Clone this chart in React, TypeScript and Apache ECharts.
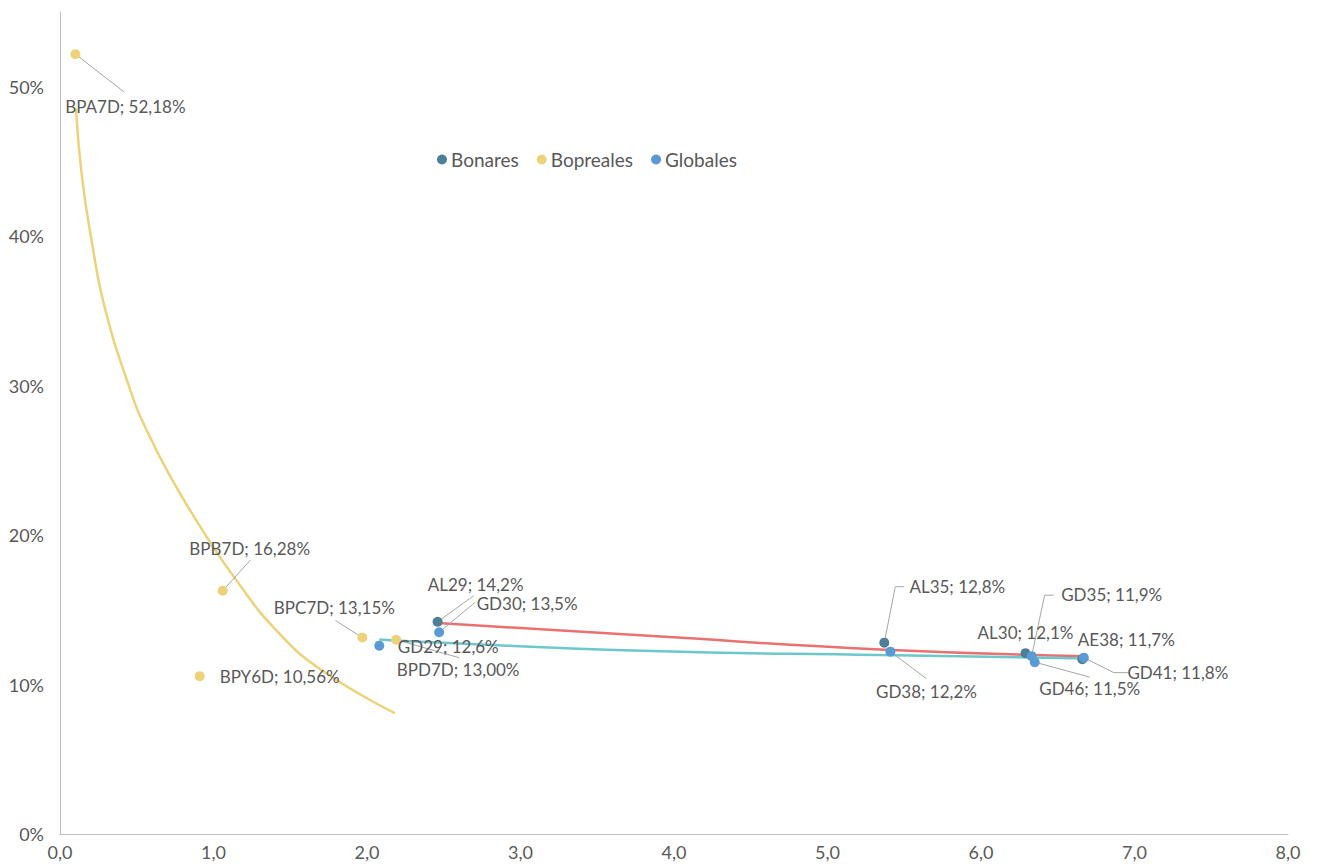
import React, { useEffect, useRef } from 'react';
import * as echarts from 'echarts';

// ---- Data ----
const bonaresNames = ['AL29', 'AL35', 'AL30', 'AE38'];
const bonaresDuration = [2.46, 5.37, 6.29, 6.66];
const bonaresYield = [0.142, 0.128, 0.121, 0.117];

const boprealesNames = ['BPA7D', 'BPB7D', 'BPC7D', 'BPD7D', 'BPY6D'];
const boprealesDuration = [0.10, 1.06, 1.97, 2.19, 0.91];
const boprealesYield = [0.5218, 0.1628, 0.1315, 0.13, 0.1056];

const globalesNames = ['GD30', 'GD29', 'GD38', 'GD35', 'GD46', 'GD41'];
const globalesDuration = [2.47, 2.08, 5.41, 6.33, 6.35, 6.67];
const globalesYield = [0.135, 0.126, 0.122, 0.119, 0.115, 0.118];

// trend lines
const bonaresTrendX = [2.46, 3.86, 5.34, 6.69];
const bonaresTrendY = [0.1412, 0.1324, 0.1235, 0.119];
const globalesTrendX = [2.08, 2.345, 3.86, 5.34, 6.69];
const globalesTrendY = [0.1302, 0.1286, 0.1224, 0.1197, 0.1175];
const boprealesTrendX = [0.104, 0.141, 0.2065, 0.293, 0.456, 0.567, 0.736, 0.932, 1.153, 1.414, 1.713, 2.182];
const boprealesTrendY = [0.4856, 0.4415, 0.3967, 0.3518, 0.2977, 0.2696, 0.2361, 0.2027, 0.1692, 0.1358, 0.109, 0.0809];

// ---- Label placement (style): label centre offset from point, leader polyline offsets ----
const bonaresLabelOffsets = [[38, -37], [73, -56], [0, -21], [44, -20]];
const bonaresLeaders = [[[0, 0], [36, -26]], [[0, 0], [11, -56], [20, -56]], null, null];
const boprealesLabelOffsets = [[50, 52], [27, -42], [-28, -30], [62, 30], [80, 0]];
const boprealesLeaders = [[[0, 0], [49, 38]], [[0, 0], [28, -31]], [[0, 0], [-27, -17]], [[0, 0], [63, 18]], null];
const globalesLabelOffsets = [[88, -29], [69, 1], [36, 40], [80, -62], [55, 26], [94, 15]];
const globalesLeaders = [
  [[0, 0], [36, -30]],
  null,
  [[0, 0], [36, 27]],
  [[0, 0], [13, -61], [22, -61]],
  [[0, 0], [55, 15]],
  [[0, 0], [30, 15], [45, 15]],
];

const FONT = 'Lato, "Open Sans", sans-serif';
const TEXT = '#595959';
const C_BON = '#4e7e98';
const C_BOP = '#edd27a';
const C_GLO = '#5b9bd5';

function fmtPct(v: number, d: number) {
  return (v * 100).toFixed(d).replace('.', ',') + '%';
}

function scatterSeries(
  name: string,
  color: string,
  names: string[],
  xs: number[],
  ys: number[],
  offsets: number[][],
  decimals: number
) {
  return {
    name,
    type: 'scatter',
    symbolSize: 10,
    itemStyle: { color, opacity: 1 },
    data: names.map((n, i) => ({ name: n, value: [xs[i], ys[i]] })),
    label: {
      show: true,
      position: 'inside',
      color: TEXT,
      fontFamily: FONT,
      fontSize: 17,
      lineHeight: 17,
      formatter: (p: any) => `${p.name}; ${fmtPct(p.value[1], decimals)}`,
    },
    labelLayout: (p: any) => ({ dx: offsets[p.dataIndex][0], dy: offsets[p.dataIndex][1] }),
    emphasis: { disabled: true },
    z: 4,
  };
}

function trendSeries(name: string, color: string, xs: number[], ys: number[]) {
  return {
    name,
    type: 'line',
    data: xs.map((x, i) => [x, ys[i]]),
    showSymbol: false,
    smooth: true,
    lineStyle: { color, width: 2.5 },
    silent: true,
    z: 2,
  };
}

const leaderXs = [...bonaresDuration, ...boprealesDuration, ...globalesDuration];
const leaderYs = [...bonaresYield, ...boprealesYield, ...globalesYield];
const leaderShapes: any[] = [...bonaresLeaders, ...boprealesLeaders, ...globalesLeaders];

export default function App() {
  const ref = useRef<HTMLDivElement>(null);
  useEffect(() => {
    if (!ref.current) return;
    const chart = echarts.init(ref.current, undefined, { renderer: 'svg' });
    chart.setOption({
      animation: false,
      backgroundColor: '#ffffff',
      textStyle: { fontFamily: FONT },
      grid: { left: 60, right: 30, top: 12, bottom: 30, containLabel: false },
      legend: {
        data: ['Bonares', 'Bopreales', 'Globales'],
        left: 432,
        top: 145,
        icon: 'circle',
        itemWidth: 10,
        itemHeight: 10,
        itemGap: 18,
        textStyle: { color: TEXT, fontFamily: FONT, fontSize: 19, padding: [0, 0, 0, -1] },
      },
      xAxis: {
        type: 'value',
        min: 0,
        max: 8,
        interval: 1,
        axisLine: { show: true, lineStyle: { color: '#bfbfbf', width: 1 } },
        axisTick: { show: false },
        splitLine: { show: false },
        axisLabel: {
          color: TEXT,
          fontFamily: FONT,
          fontSize: 18,
          margin: 9,
          formatter: (v: number) => v.toFixed(1).replace('.', ','),
        },
      },
      yAxis: {
        type: 'value',
        min: 0,
        max: 0.55,
        interval: 0.1,
        axisLine: { show: true, lineStyle: { color: '#bfbfbf', width: 1 } },
        axisTick: { show: false },
        splitLine: { show: false },
        axisLabel: {
          color: TEXT,
          fontFamily: FONT,
          fontSize: 18,
          margin: 16,
          showMaxLabel: false,
          formatter: (v: number) => {
            const p = v * 100;
            return Math.abs(p - Math.round(p / 10) * 10) < 1e-6 ? Math.round(p) + '%' : '';
          },
        },
      },
      series: [
        trendSeries('BopTrend', C_BOP, boprealesTrendX, boprealesTrendY),
        trendSeries('BonTrend', '#e97171', bonaresTrendX, bonaresTrendY),
        trendSeries('GloTrend', '#6dc8cc', globalesTrendX, globalesTrendY),
        {
          name: 'leaders',
          type: 'custom',
          silent: true,
          z: 3,
          encode: { x: 0, y: 1 },
          data: leaderXs.map((x, i) => [x, leaderYs[i]]),
          renderItem: (params: any, api: any) => {
            const pts = leaderShapes[params.dataIndex];
            if (!pts) return null;
            const c = api.coord([api.value(0), api.value(1)]);
            return {
              type: 'polyline',
              shape: { points: pts.map((p: number[]) => [c[0] + p[0], c[1] + p[1]]) },
              style: { stroke: '#a6a6a6', lineWidth: 1, fill: null },
            };
          },
        },
        scatterSeries('Bonares', C_BON, bonaresNames, bonaresDuration, bonaresYield, bonaresLabelOffsets, 1),
        scatterSeries('Bopreales', C_BOP, boprealesNames, boprealesDuration, boprealesYield, boprealesLabelOffsets, 2),
        scatterSeries('Globales', C_GLO, globalesNames, globalesDuration, globalesYield, globalesLabelOffsets, 1),
      ],
    });
    return () => chart.dispose();
  }, []);
  return (
    <div
      ref={ref}
      style={{ position: 'absolute', left: 0, top: 0, width: 1318, height: 864, background: '#fff' }}
    />
  );
}
